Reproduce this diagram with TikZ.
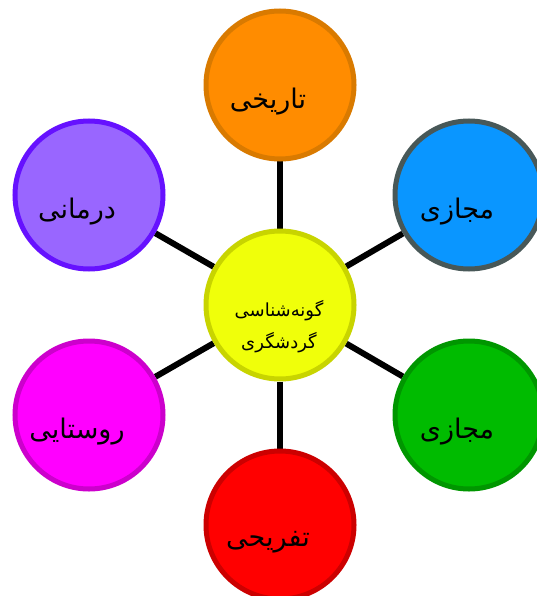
\documentclass[tikz,border=0pt]{standalone}
\usepackage{fontspec}
\newfontfamily\arabicfont[Script=Arabic]{DejaVu Sans}
\TeXXeTstate=1
\usetikzlibrary{backgrounds}
\definecolor{cfill}{HTML}{F0FF0A}\definecolor{cdraw}{HTML}{C8D400}
\definecolor{ofill}{HTML}{FF8C00}\definecolor{odraw}{HTML}{D97A00}
\definecolor{bfill}{HTML}{0A96FF}\definecolor{bdraw}{HTML}{485858}
\definecolor{pfill}{HTML}{9966FF}\definecolor{pdraw}{HTML}{6611FF}
\definecolor{gfill}{HTML}{00BB00}\definecolor{gdraw}{HTML}{009600}
\definecolor{mfill}{HTML}{FF00FF}\definecolor{mdraw}{HTML}{CC00CC}
\definecolor{rfill}{HTML}{FF0000}\definecolor{rdraw}{HTML}{CC0000}
\tikzset{
  bubble/.style={circle, line width=5pt, minimum size=148pt, inner sep=0pt},
  btext/.style={font={\arabicfont\fontsize{27}{30}\selectfont}, inner sep=0pt},
  link/.style={line width=6pt, draw=black}
}
\begin{document}
\begin{tikzpicture}[x=1pt,y=-1pt]
\useasboundingbox (0,0) rectangle (536,596);
\node[bubble, fill=cfill, draw=cdraw] (c) at (280,305) {};
\node[bubble, fill=ofill, draw=odraw] (t) at (280,85) {};
\node[bubble, fill=bfill, draw=bdraw] (ur) at (469,195) {};
\node[bubble, fill=gfill, draw=gdraw] (lr) at (469,415) {};
\node[bubble, fill=rfill, draw=rdraw] (b) at (280,525) {};
\node[bubble, fill=mfill, draw=mdraw] (ll) at (89,415) {};
\node[bubble, fill=pfill, draw=pdraw] (ul) at (89,195) {};
\begin{scope}[on background layer]
\foreach \n in {t,ur,lr,b,ll,ul} \draw[link] (c) -- (\n);
\end{scope}
\node[btext] (tt) at ([shift={(-12,17)}]t.center) {\beginR تاریخی\endR};
\node[btext] (urt) at ([shift={(-12,17)}]ur.center) {\beginR مجازی\endR};
\node[btext] (lrt) at ([shift={(-12,17)}]lr.center) {\beginR مجازی\endR};
\node[btext] (bt) at ([shift={(-12,17)}]b.center) {\beginR تفریحی\endR};
\node[btext] (llt) at ([shift={(-12,17)}]ll.center) {\beginR روستایی\endR};
\node[btext] (ult) at ([shift={(-12,17)}]ul.center) {\beginR درمانی\endR};
\node[align=center, inner sep=0pt, font={\arabicfont\fontsize{18}{32}\selectfont}] (ct) at ([shift={(-1,22)}]c.center) {\beginR گونه‌شناسی\endR\\\beginR گردشگری\endR};
\end{tikzpicture}
\end{document}
